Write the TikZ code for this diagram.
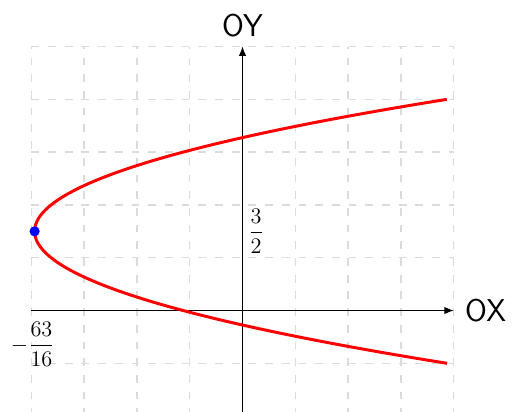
\documentclass[tikz,border=0pt]{standalone}
\usepackage{amsmath}
\usetikzlibrary{arrows.meta}
\begin{document}
\begin{tikzpicture}[
  gridline/.style={draw=black!14, line width=0.7pt, dash pattern=on 4.2pt off 4.8pt},
  axisline/.style={draw=black, line width=0.6pt, -{Latex[length=5pt,width=4pt]}},
  curveline/.style={draw=red, line width=1.6pt},
  axlabel/.style={font=\sffamily\fontsize{17}{20}\selectfont, inner sep=3pt},
  fraclabel/.style={font=\fontsize{12.5}{14}\selectfont, inner sep=3pt}
]
\useasboundingbox (-4.593,-1.922) rectangle (5.18,5.881);
% grid
\foreach \x in {-4,...,4} \draw[gridline] (\x,-2) -- (\x,5);
\foreach \y in {-2,...,5} \draw[gridline] (-4,\y) -- (4,\y);
% axes
\coordinate (xs) at (-4,0);
\coordinate (xe) at (4,0);
\coordinate (ys) at (0,-1.95);
\coordinate (ye) at (0,5);
\draw[axisline] (xs) -- (xe);
\draw[axisline] (ys) -- (ye);
\node[axlabel, right, xshift=3pt] (ox) at (xe) {OX};
\node[axlabel, above, yshift=2pt] (oy) at (ye) {OY};
% parabola
\draw[curveline] plot[domain=-1:4, samples=120, smooth, variable=\t]
  ({1.25*(\t-1.5)*(\t-1.5)-63/16}, {\t});
% vertex
\node[circle, fill=blue, inner sep=0pt, minimum size=5.5pt] (v) at (-63/16,1.5) {};
% labels
\node[fraclabel, right] (lb32) at (0,1.5) {$\dfrac{3}{2}$};
\node[fraclabel, below, xshift=-1pt, yshift=-3pt] (lb63) at (-63/16,0) {$-\dfrac{63}{16}$};
\end{tikzpicture}
\end{document}
